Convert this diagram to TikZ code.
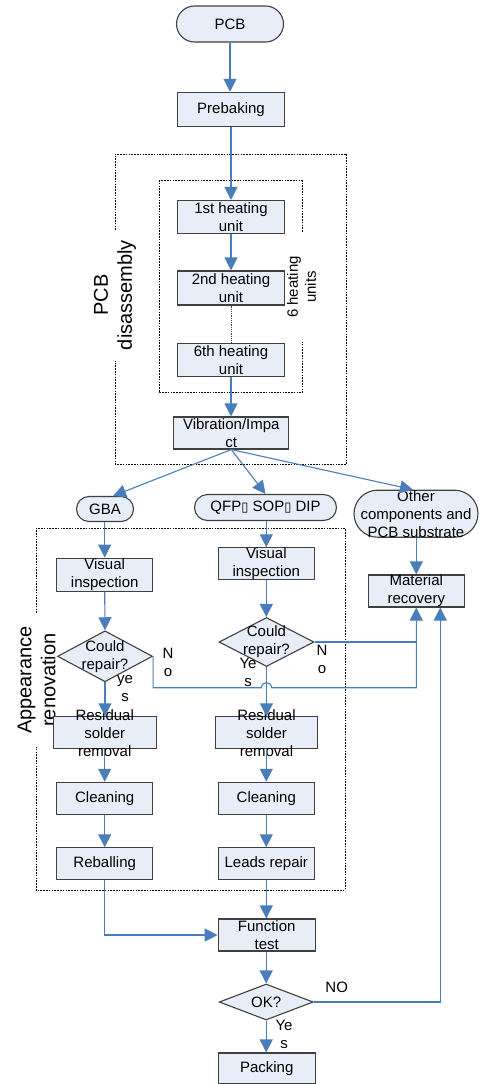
\documentclass[tikz,border=0pt]{standalone}
\usepackage{fontspec}
\setmainfont{Liberation Sans}
\newfontfamily\symfont{DejaVu Sans}
\usetikzlibrary{arrows.meta,shapes.geometric}
\definecolor{boxfill}{HTML}{E8EEF7}
\definecolor{flowblue}{HTML}{4A7EBB}
\definecolor{edgegray}{HTML}{404040}
\begin{document}
\begin{tikzpicture}[x=1pt,y=-1pt,
  font=\fontsize{15}{18}\selectfont,
  box/.style 2 args={draw=edgegray, line width=1.1pt, fill=boxfill, rectangle,
    minimum width=#1, minimum height=#2, inner sep=0pt},
  term/.style n args={3}{draw=edgegray, line width=1.1pt, fill=boxfill, rectangle,
    rounded corners=#3, minimum width=#1, minimum height=#2, inner sep=0pt},
  dia/.style 2 args={draw=edgegray, line width=1.1pt, fill=boxfill, diamond,
    minimum width=#1, minimum height=#2, inner sep=0pt},
  txt/.style={inner sep=0pt, align=center, text=black},
  flow/.style={draw=flowblue, line width=1.1pt},
  arr/.style={flow, -{Triangle[width=13pt,length=13pt]}},
  region/.style={draw=black, line width=0.6pt, dash pattern=on 1.6pt off 1.2pt},
  biglabel/.style={inner sep=0pt, align=center, rotate=90, font=\fontsize{20}{24}\selectfont},
]
\useasboundingbox (0,0) rectangle (479,1084);

% dashed regions
\draw[region] (115,230) -- (115,154) -- (346.7,154) -- (346.7,464) -- (115,464) -- (115,361);
\draw[region] (302.3,231.7) -- (302.3,180.7) -- (159.3,180.7) -- (159.3,392.7) -- (302.3,392.7) -- (302.3,341.7);
\draw[region] (36,613) -- (36,528.3) -- (345,528.3) -- (345,890) -- (36,890) -- (36,746.7);

% region labels
\node[biglabel] (lpcb) at (115,295) {PCB\\disassembly};
\node[txt, rotate=90] (l6) at (301.5,287) {6 heating\\units};
\node[biglabel] (lapp) at (36.5,680) {Appearance\\renovation};

% nodes
\node[term={107pt}{36pt}{18pt}] (pcb) at (230,24) {};
\node[txt] (tpcb) at (pcb) {PCB};
\node[box={107pt}{34pt}] (pre) at (231,109.3) {};
\node[txt] (tpre) at (pre) {Prebaking};
\node[box={107pt}{33pt}] (h1) at (231,217) {};
\node[txt] (th1) at (h1) {1st heating\\unit};
\node[box={107pt}{34pt}] (h2) at (231,288) {};
\node[txt] (th2) at (h2) {2nd heating\\unit};
\node[box={107pt}{33pt}] (h6) at (231,359.7) {};
\node[txt] (th6) at (h6) {6th heating\\unit};
\node[box={115pt}{32pt}] (vib) at (231.3,433) {};
\node[txt] (tvib) at (vib) {Vibration/Impa\\ct};

\node[term={57pt}{25pt}{12.5pt}] (gba) at (105,509) {};
\node[txt] (tgba) at (gba) {GBA};
\node[term={142pt}{26pt}{13pt}] (qfp) at (265.5,507.5) {};
\node[txt] (tqfp) at (qfp) {QFP{\symfont\fontsize{13}{15}\selectfont ▯} SOP{\symfont\fontsize{13}{15}\selectfont ▯} DIP};
\node[term={124pt}{47pt}{23.5pt}] (oth) at (416,513.7) {};
\node[txt] (toth) at (oth) {Other\\components and\\PCB substrate};

\node[box={96pt}{33pt}] (vi1) at (104.7,574.7) {};
\node[txt] (tvi1) at (vi1) {Visual\\inspection};
\node[box={96pt}{32pt}] (vi2) at (266.3,563.8) {};
\node[txt] (tvi2) at (vi2) {Visual\\inspection};
\node[box={96pt}{32pt}] (mat) at (416.3,591) {};
\node[txt] (tmat) at (mat) {Material\\recovery};

\node[dia={95pt}{51pt}] (d1) at (105,656.3) {};
\node[txt] (td1) at (d1) {Could\\repair?};
\node[dia={95pt}{49pt}] (d2) at (266.5,642) {};
\node[txt] (td2) at (d2) {Could\\repair?};

\node[box={103pt}{32pt}] (rs1) at (104.7,732.8) {};
\node[txt] (trs1) at (rs1) {Residual\\solder\\removal};
\node[box={102pt}{32pt}] (rs2) at (266.5,732.8) {};
\node[txt] (trs2) at (rs2) {Residual\\solder\\removal};
\node[box={96pt}{32pt}] (cl1) at (104.7,798.3) {};
\node[txt] (tcl1) at (cl1) {Cleaning};
\node[box={96pt}{32pt}] (cl2) at (266.3,798.3) {};
\node[txt] (tcl2) at (cl2) {Cleaning};
\node[box={96pt}{32pt}] (reb) at (104.7,863.8) {};
\node[txt] (treb) at (reb) {Reballing};
\node[box={96pt}{32pt}] (lr) at (266.3,863.8) {};
\node[txt] (tlr) at (lr) {Leads repair};

\node[box={97pt}{32pt}] (ft) at (266.7,935) {};
\node[txt] (tft) at (ft) {Function\\test};
\node[dia={94pt}{36pt}] (ok) at (266.2,1002) {};
\node[txt] (tok) at (ok) {OK?};
\node[box={97pt}{31pt}] (pk) at (266.7,1068.5) {};
\node[txt] (tpk) at (pk) {Packing};

% small labels
\node[txt] (y1) at (125,689) {ye\\s};
\node[txt] (n1) at (168,662) {N\\o};
\node[txt] (y2) at (248,672) {Ye\\s};
\node[txt] (n2) at (322,659) {N\\o};
\node[txt] (y3) at (284,1034) {Ye\\s};
\node[txt] (n3) at (336.7,987.3) {NO};

% connectors
\draw[arr] (pcb.south) -- (pcb.south |- pre.north);
\draw[flow] (pre.south) -- (pre.south |- 0,154);
\draw[arr] (pre.south |- 0,154) -- (h1.north);
\draw[arr] (h1.south) -- (h2.north);
\draw[draw=edgegray, line width=0.8pt, densely dotted] (h2.south) -- (h6.north);
\draw[arr] (h6.south) -- (h6.south |- vib.north);
\draw[arr] (vib.south) -- ([xshift=8pt]gba.north);
\draw[arr] (vib.south) -- (qfp.north);
\draw[arr] (vib.south) -- ([xshift=-3pt]oth.north);
\draw[arr] (oth.south -| mat.south) -- (mat.north);

\draw[arr] (gba.south -| vi1.north) -- (vi1.north);
\draw[arr] (vi1.south) -- (d1.north);
\draw[arr] (d1.south) -- (d1.south |- rs1.north);
\draw[arr] (rs1.south) -- (rs1.south |- cl1.north);
\draw[arr] (cl1.south) -- (reb.north);
\draw[arr] (reb.south) |- (ft.west);

\draw[arr] (qfp.south -| vi2.north) -- (vi2.north);
\draw[arr] (vi2.south) -- (vi2.south |- d2.north);
\draw[arr] (d2.south) -- (d2.south |- rs2.north);
\draw[arr] (rs2.south -| cl2.north) -- (cl2.north);
\draw[arr] (cl2.south) -- (lr.north);
\draw[arr] (lr.south) -- (lr.south |- ft.north);
\draw[arr] (ft.south -| ok.north) -- (ok.north);
\draw[arr] (ok.south) -- (ok.south |- pk.north);

% No branches
\draw[arr] (d1.east) -- (d1.east |- 0,687.7) -- (261.5,687.7)
  .. controls (261.5,681) and (271.5,681) .. (271.5,687.7)
  -- (mat.south |- 0,687.7) -- (mat.south);
\draw[flow] (d2.east) -- (mat.south |- d2.east);
\draw[arr] (ok.east) -| ([xshift=24pt]mat.south);
\end{tikzpicture}
\end{document}
